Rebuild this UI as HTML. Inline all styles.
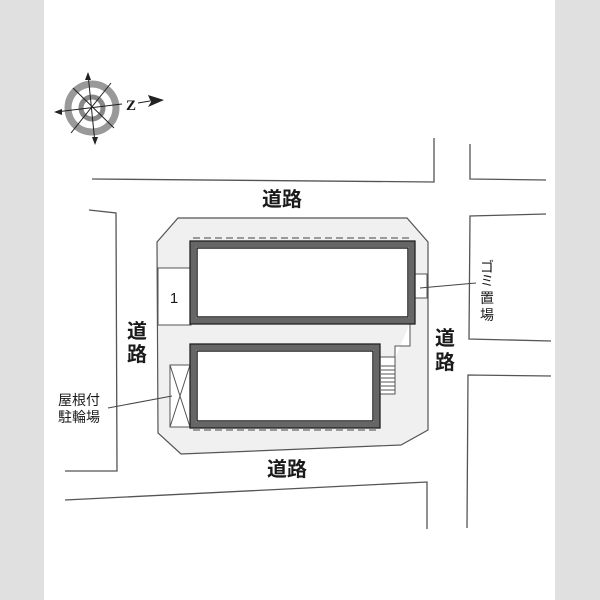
<!DOCTYPE html><html><head><meta charset="utf-8"><style>body{margin:0}svg{display:block}text{font-family:"Liberation Sans","Noto Sans CJK JP",sans-serif;fill:#1a1a1a}</style></head><body>
<svg width="600" height="600" viewBox="0 0 600 600">
<rect width="600" height="600" fill="#fff"/>
<rect x="0" y="0" width="44" height="600" fill="#e0e0e0"/>
<rect x="555" y="0" width="45" height="600" fill="#e0e0e0"/>
<g stroke="#555" stroke-width="1.3" fill="none">
<polyline points="92,179 434,182 434,138"/>
<polyline points="470,144 470,179 546,180"/>
<polyline points="89,210 116,213 117,471 65,471"/>
<polyline points="546,214 470,216 469,339 551,341"/>
<polyline points="551,376 468,375 467,528"/>
<polyline points="65,500 427,482 427,529"/>
</g>
<polygon points="178,218 407,218 428,242 428,430 401,445 181,454 158,433 157,242" fill="#f0f0f0" stroke="#555" stroke-width="1.2"/>
<rect x="158" y="268" width="33" height="57" fill="#fff" stroke="#555" stroke-width="1"/>
<text x="174" y="303" font-size="15" text-anchor="middle">1</text>
<polyline points="410,323 410,346 395,346 395,394 380,394" fill="#fff" stroke="#555" stroke-width="1"/>
<rect x="380" y="357" width="15" height="37" fill="#fff" stroke="#555"/>
<g stroke="#555" stroke-width="1"><line x1="381" y1="366" x2="395" y2="366"/><line x1="381" y1="370" x2="395" y2="370"/><line x1="381" y1="374" x2="395" y2="374"/><line x1="381" y1="378" x2="395" y2="378"/><line x1="381" y1="382" x2="395" y2="382"/><line x1="381" y1="386" x2="395" y2="386"/><line x1="381" y1="390" x2="395" y2="390"/></g>
<rect x="414" y="274" width="13" height="24" fill="#fff" stroke="#555"/>
<line x1="420" y1="288" x2="476" y2="283" stroke="#444"/>
<rect x="170" y="365" width="20" height="62" fill="#fff" stroke="#555"/>
<line x1="170" y1="365" x2="190" y2="427" stroke="#555"/><line x1="190" y1="365" x2="170" y2="427" stroke="#555"/>
<line x1="108" y1="408" x2="172" y2="396" stroke="#444"/>
<g stroke="#666" stroke-dasharray="7,4" stroke-width="1.3"><line x1="193" y1="238" x2="412" y2="238"/><line x1="193" y1="430" x2="378" y2="430"/></g>
<rect x="193" y="244" width="219" height="77" fill="#fff" stroke="#666" stroke-width="6"/>
<rect x="190" y="241" width="225" height="83" fill="none" stroke="#222" stroke-width="1.3"/>
<rect x="197" y="248" width="211" height="69" fill="none" stroke="#222" stroke-width="1.5"/>
<rect x="193" y="347" width="184" height="78" fill="#fff" stroke="#666" stroke-width="6"/>
<rect x="190" y="344" width="190" height="84" fill="none" stroke="#222" stroke-width="1.3"/>
<rect x="197" y="351" width="176" height="70" fill="none" stroke="#222" stroke-width="1.5"/>
<g font-weight="bold">
<text x="282" y="206" font-size="20" text-anchor="middle">道路</text>
<text x="287" y="476" font-size="20" text-anchor="middle">道路</text>
<text x="137" y="338" font-size="20" text-anchor="middle">道</text><text x="137" y="361" font-size="20" text-anchor="middle">路</text>
<text x="445" y="345" font-size="20" text-anchor="middle">道</text><text x="445" y="369" font-size="20" text-anchor="middle">路</text>
</g>
<text x="79" y="405" font-size="14" text-anchor="middle">屋根付</text>
<text x="79" y="422" font-size="14" text-anchor="middle">駐輪場</text>
<g font-size="14" text-anchor="middle"><text x="487" y="272">ゴ</text><text x="487" y="286">ミ</text><text x="487" y="303">置</text><text x="487" y="320">場</text></g>
<circle cx="92" cy="108" r="24" fill="none" stroke="#999" stroke-width="7"/>
<circle cx="92" cy="108" r="11" fill="none" stroke="#888" stroke-width="5"/>
<g stroke="#222" stroke-width="1"><line x1="88" y1="74" x2="95" y2="143"/><line x1="56" y1="112" x2="122" y2="104"/><line x1="73" y1="88" x2="114" y2="128"/><line x1="111" y1="83" x2="71" y2="133"/></g>
<polygon points="88,72 85,80 91,80" fill="#222"/><polygon points="95,145 92,137 98,137" fill="#222"/><polygon points="54,112 62,109 62,115" fill="#222"/>
<text x="126" y="110" font-size="15" font-weight="bold" style="font-family:'Liberation Serif',serif">Z</text>
<line x1="138" y1="103" x2="150" y2="101" stroke="#222"/><polygon points="164,100 148,95 151,102 148,107" fill="#222"/>
</svg></body></html>
